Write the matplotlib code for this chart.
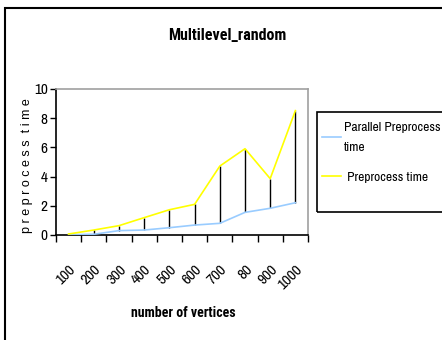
import numpy as np
import matplotlib
matplotlib.use("Agg")
import matplotlib.pyplot as plt
from matplotlib.patches import Rectangle

vertices = ["100", "200", "300", "400", "500", "600", "700", "80", "900", "1000"]
preprocess = [0.07, 0.34, 0.64, 1.19, 1.73, 2.1, 4.72, 5.91, 3.86, 8.52]
parallel = [0.02, 0.05, 0.3, 0.34, 0.5, 0.68, 0.8, 1.55, 1.83, 2.21]
y_ticks = [0, 2, 4, 6, 8, 10]

narrow = ["Archivo Narrow", "Liberation Sans", "DejaVu Sans"]
narrow_bold = ["Roboto Condensed", "Fira Sans Condensed", "Barlow Condensed",
               "IBM Plex Sans Condensed", "Archivo Narrow", "Liberation Sans"]


def main():
    fig = plt.figure(figsize=(4.42, 3.4), dpi=100)
    fig.patch.set_facecolor("white")

    # outer chart border, cut off at the right and bottom
    fig.patches.append(Rectangle((5 / 442, -0.1), 1.2, 1 - 8 / 340 + 0.1,
                                 transform=fig.transFigure, fill=False,
                                 edgecolor="black", linewidth=1.5))
    # legend box, also running off the right edge
    fig.patches.append(Rectangle((317 / 442, 1 - 212 / 340), 0.5, 100 / 340,
                                 transform=fig.transFigure, fill=False,
                                 edgecolor="black", linewidth=1.2))

    ax = fig.add_axes([56 / 442, 1 - 235 / 340, 252 / 442, 146 / 340])
    x = np.arange(len(vertices))

    # high-low lines between the two series
    ax.vlines(x, parallel, preprocess, colors="black", linewidth=1.0, zorder=2)
    ax.plot(x, parallel, color="#99ccff", linewidth=1.2, label="Parallel Preprocess\ntime", zorder=3)
    ax.plot(x, preprocess, color="#ffff00", linewidth=1.2, label=" Preprocess time", zorder=3)

    ax.set_xlim(-0.5, len(vertices) - 0.5)
    ax.set_ylim(0, 10)
    ax.set_yticks(y_ticks)
    ax.set_yticklabels([str(v) for v in y_ticks], fontfamily=narrow, fontsize=11)
    ax.tick_params(axis="y", direction="out", length=4, width=1, pad=2)

    ax.set_xticks(x)
    ax.set_xticklabels(vertices, rotation=45, ha="right", va="top",
                       rotation_mode="anchor", fontfamily=narrow, fontsize=11)
    ax.tick_params(axis="x", length=0, pad=20)
    ax.set_xticks(np.arange(-0.5, len(vertices)), minor=True)
    ax.tick_params(axis="x", which="minor", direction="out", length=5, width=1)

    for side in ("top", "right"):
        ax.spines[side].set_color("#a0a0a0")
    for side in ("left", "bottom"):
        ax.spines[side].set_color("black")
    for sp in ax.spines.values():
        sp.set_linewidth(1.2)

    fig.text(227 / 442, 1 - 35 / 340, "Multilevel_random", ha="center", va="center",
             fontfamily=narrow_bold, fontsize=11.5, fontweight="bold")
    fig.text(183 / 442, 1 - 313 / 340, "number of vertices", ha="center", va="center",
             fontfamily=narrow_bold, fontsize=10, fontweight="bold")
    fig.text(27 / 442, 1 - 166 / 340, "p r e p r o c e s s  t i m e", ha="center",
             va="center", rotation=90, fontfamily=["Liberation Sans", "DejaVu Sans"],
             fontsize=9)

    leg = fig.legend(loc="upper left", bbox_to_anchor=(317 / 442, 1 - 117 / 340),
                     frameon=False, handlelength=1.45, handletextpad=0.2,
                     borderpad=0.35, borderaxespad=0, labelspacing=1.35,
                     prop={"family": narrow, "size": 9.7})
    for t in leg.get_texts():
        t.set_linespacing(2.05)

    fig.savefig("out.png", dpi=100)


if __name__ == "__main__":
    main()
